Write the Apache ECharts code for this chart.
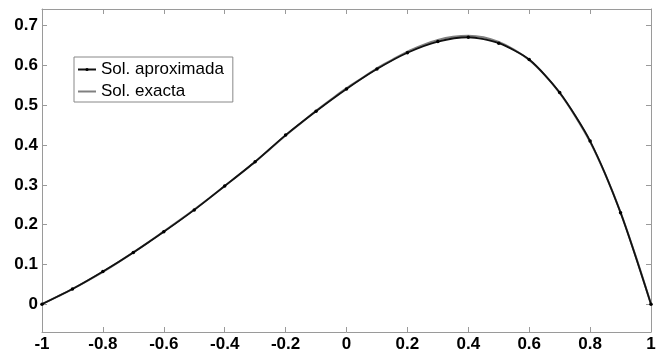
<!DOCTYPE html>
<html>
<head>
<meta charset="utf-8">
<script src="https://cdn.jsdelivr.net/npm/echarts@6/dist/echarts.min.js"></script>
<style>
html, body { margin: 0; padding: 0; background: #fff; }
#main { width: 659px; height: 356px; }
</style>
</head>
<body>
<div id="main"></div>
<script>
// nodos de la solución aproximada
var xAprox = [-1, -0.9, -0.8, -0.7, -0.6, -0.5, -0.4, -0.3, -0.2, -0.1, 0,
              0.1, 0.2, 0.3, 0.4, 0.5, 0.6, 0.7, 0.8, 0.9, 1];
var yAprox = [0, 0.038, 0.082, 0.130, 0.182, 0.237, 0.297, 0.358, 0.425, 0.485, 0.541,
              0.591, 0.632, 0.660, 0.671, 0.656, 0.615, 0.532, 0.410, 0.230, 0];

// solución exacta
var xExacta = [-1, -0.95, -0.9, -0.85, -0.8, -0.75, -0.7, -0.65, -0.6, -0.55, -0.5,
               -0.45, -0.4, -0.35, -0.3, -0.25, -0.2, -0.15, -0.1, -0.05, 0,
               0.05, 0.1, 0.15, 0.2, 0.25, 0.3, 0.35, 0.4, 0.45, 0.5,
               0.55, 0.6, 0.65, 0.7, 0.75, 0.8, 0.85, 0.9, 0.95, 1];
var yExacta = [0, 0.019, 0.038, 0.059, 0.081, 0.105, 0.130, 0.156, 0.183, 0.210, 0.238,
               0.267, 0.297, 0.327, 0.358, 0.391, 0.424, 0.455, 0.486, 0.515, 0.543,
               0.568, 0.593, 0.614, 0.635, 0.651, 0.664, 0.672, 0.675, 0.671, 0.659,
               0.640, 0.614, 0.577, 0.531, 0.474, 0.408, 0.326, 0.231, 0.120, 0];

var xTicks = [-1, -0.8, -0.6, -0.4, -0.2, 0, 0.2, 0.4, 0.6, 0.8, 1];
var yTicks = [0, 0.1, 0.2, 0.3, 0.4, 0.5, 0.6, 0.7];

function pares(xs, ys) {
    var out = [];
    for (var i = 0; i < xs.length; i++) out.push([xs[i], ys[i]]);
    return out;
}

var myChart = echarts.init(document.getElementById('main'));
var axisGris = '#9a9a9a';
var labelStyle = {
    color: '#000',
    fontFamily: 'Liberation Sans, Arial, sans-serif',
    fontWeight: 'bold',
    fontSize: 17
};

function ejeX(pos, conLabels) {
    return {
        type: 'value', position: pos, min: -1, max: 1,
        axisLine: { show: true, onZero: false, lineStyle: { color: axisGris, width: 1 } },
        axisTick: { show: true, inside: true, length: 5, customValues: xTicks, lineStyle: { color: axisGris } },
        axisLabel: Object.assign({ show: conLabels, margin: 4, customValues: xTicks,
            formatter: function (v) { return String(v); } }, labelStyle),
        splitLine: { show: false }
    };
}
function ejeY(pos, conLabels) {
    return {
        type: 'value', position: pos, min: -0.07, max: 0.742,
        axisLine: { show: true, onZero: false, lineStyle: { color: axisGris, width: 1 } },
        axisTick: { show: true, inside: true, length: 5, customValues: yTicks, lineStyle: { color: axisGris } },
        axisLabel: Object.assign({ show: conLabels, margin: 4, customValues: yTicks,
            formatter: function (v) { return String(v); } }, labelStyle),
        splitLine: { show: false }
    };
}

var option = {
    backgroundColor: '#fff',
    animation: false,
    grid: { left: 42, right: 8, top: 9, bottom: 24, containLabel: false },
    xAxis: [ejeX('bottom', true), ejeX('top', false)],
    yAxis: [ejeY('left', true), ejeY('right', false)],
    legend: {
        orient: 'vertical',
        left: 74,
        top: 57,
        backgroundColor: '#fff',
        borderColor: '#888',
        borderWidth: 1,
        borderRadius: 0,
        padding: [4, 9, 2, 3],
        itemGap: 5,
        itemWidth: 18,
        itemHeight: 4,
        textStyle: { color: '#000', fontFamily: 'Liberation Sans, Arial, sans-serif', fontSize: 17 },
        data: [
            { name: 'Sol. aproximada' },
            { name: 'Sol. exacta', itemStyle: { opacity: 0 } }
        ]
    },
    series: [
        {
            name: 'Sol. exacta',
            type: 'line',
            smooth: 0.3,
            showSymbol: false,
            symbol: 'none',
            lineStyle: { color: '#808080', width: 2 },
            itemStyle: { color: '#808080' },
            data: pares(xExacta, yExacta)
        },
        {
            name: 'Sol. aproximada',
            type: 'line',
            smooth: 0.25,
            symbol: 'circle',
            symbolSize: 3.5,
            lineStyle: { color: '#111', width: 1.8 },
            itemStyle: { color: '#000' },
            data: pares(xAprox, yAprox)
        }
    ]
};

myChart.setOption(option);
window.addEventListener('resize', function () { myChart.resize(); });
</script>
</body>
</html>
